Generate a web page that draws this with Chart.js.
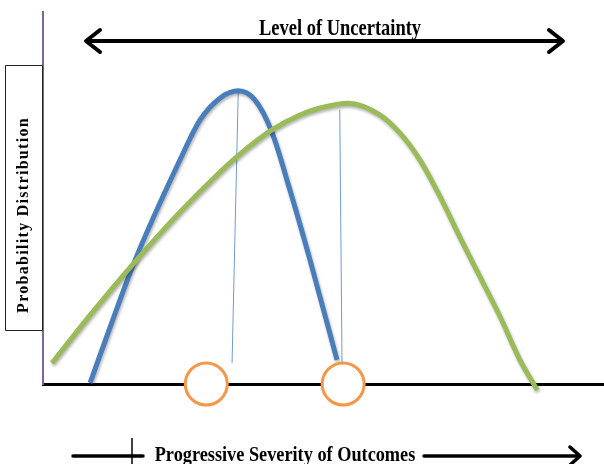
<!DOCTYPE html>
<html>
<head>
<meta charset="utf-8">
<script src="https://cdn.jsdelivr.net/npm/chart.js@4.4.1/dist/chart.umd.min.js"></script>
<style>
  html, body { margin: 0; padding: 0; background: #fff; }
</style>
</head>
<body>
<canvas id="chart" width="604" height="464"></canvas>
<script>
// Severity runs 0..100 left to right, probability 0..100 bottom to top
const narrowX = [8.4, 12.3, 16.2, 24.4, 28.0, 31.6, 34.8, 37.8, 40.8, 44.0, 47.6, 52.4];
const narrowY = [0.3, 16.7, 32.5, 60.2, 71.0, 76.9, 78.8, 76.3, 67.7, 52.2, 33.3, 6.5];

const wideX = [1.6, 8.4, 16.2, 24.4, 31.0, 35.1, 40.8, 45.8, 49.4, 54.4, 60.1, 63.6, 67.2, 70.8, 74.3, 77.9, 81.5, 85.0, 88.1];
const wideY = [5.6, 18.5, 32.5, 46.2, 56.2, 61.8, 68.3, 72.3, 74.2, 75.5, 72.3, 67.5, 60.2, 50.3, 39.5, 28.8, 18.0, 6.5, -1.6];

// thin lines from each peak down to its marker
const peakLineX = [[34.8, 33.7], [52.9, 53.3]];
const peakLineY = [[78.5, 5.6], [73.7, 5.9]];

// orange markers sitting on the severity axis
const markerX = [29.1, 53.5];
const markerY = [0, 0];

const topTitle = 'Level of Uncertainty';
const yTitle = 'Probability Distribution';
const xTitle = 'Progressive Severity of Outcomes';

const toPoints = (xs, ys) => xs.map((x, i) => ({ x: x, y: ys[i] }));

const datasets = [
  {
    data: toPoints(markerX, markerY),
    showLine: false,
    pointRadius: 21,
    pointBorderWidth: 3,
    pointBorderColor: '#f79646',
    pointBackgroundColor: '#ffffff',
    clip: false,
    order: 1
  },
  {
    data: toPoints(wideX, wideY),
    showLine: true,
    borderColor: '#9bbb59',
    borderWidth: 5,
    pointRadius: 0,
    cubicInterpolationMode: 'monotone',
    shadow: true,
    clip: false,
    order: 2
  },
  {
    data: toPoints(narrowX, narrowY),
    showLine: true,
    borderColor: '#4a7ebb',
    borderWidth: 5,
    pointRadius: 0,
    cubicInterpolationMode: 'monotone',
    shadow: true,
    clip: false,
    order: 3
  }
];

peakLineX.forEach((xs, i) => {
  datasets.push({
    data: toPoints(xs, peakLineY[i]),
    showLine: true,
    borderColor: '#6f9bd3',
    borderWidth: 1,
    pointRadius: 0,
    clip: false,
    order: 4
  });
});

// soft drop shadow under the two curves
const shadowPlugin = {
  id: 'shadow',
  beforeDatasetDraw(chart, args) {
    if (!chart.data.datasets[args.index].shadow) return;
    const ctx = chart.ctx;
    ctx.save();
    ctx.shadowColor = 'rgba(0, 0, 0, 0.3)';
    ctx.shadowBlur = 3;
    ctx.shadowOffsetX = 1;
    ctx.shadowOffsetY = 2;
  },
  afterDatasetDraw(chart, args) {
    if (chart.data.datasets[args.index].shadow) chart.ctx.restore();
  }
};

function squeezedText(ctx, text, cx, baseline, font, sx) {
  ctx.save();
  ctx.font = font;
  ctx.textAlign = 'center';
  ctx.textBaseline = 'alphabetic';
  ctx.translate(cx, baseline);
  ctx.scale(sx, 1);
  ctx.fillText(text, 0, 0);
  ctx.restore();
}

function segment(ctx, x1, y1, x2, y2) {
  ctx.beginPath();
  ctx.moveTo(x1, y1);
  ctx.lineTo(x2, y2);
  ctx.stroke();
}

function chevron(ctx, tipX, y, dir, dx, dy) {
  ctx.beginPath();
  ctx.moveTo(tipX - dir * dx, y - dy);
  ctx.lineTo(tipX, y);
  ctx.lineTo(tipX - dir * dx, y + dy);
  ctx.stroke();
}

// arrows, titles and the boxed y label
const decorPlugin = {
  id: 'decor',
  afterDraw(chart) {
    const ctx = chart.ctx;
    ctx.save();
    ctx.fillStyle = '#000';
    ctx.strokeStyle = '#000';
    ctx.lineCap = 'round';
    ctx.lineJoin = 'round';

    // Level of Uncertainty double arrow
    ctx.lineWidth = 4;
    segment(ctx, 87, 41, 562, 41);
    chevron(ctx, 86, 41, -1, 14, 11);
    chevron(ctx, 563, 41, 1, 14, 11);
    squeezedText(ctx, topTitle, 340, 35, 'bold 24px "Liberation Serif", serif', 0.77);

    // severity arrow along the bottom
    ctx.lineWidth = 3.5;
    segment(ctx, 73, 456, 143, 456);
    segment(ctx, 424, 456, 579, 456);
    chevron(ctx, 580, 456, 1, 10, 9);
    ctx.lineWidth = 1.5;
    ctx.lineCap = 'butt';
    segment(ctx, 132, 438, 132, 464);
    squeezedText(ctx, xTitle, 285, 461, 'bold 21px "Liberation Serif", serif', 0.87);

    // boxed probability label
    ctx.fillStyle = '#fff';
    ctx.fillRect(5.5, 65.5, 37, 265);
    ctx.lineWidth = 1;
    ctx.strokeStyle = '#222';
    ctx.strokeRect(5.5, 65.5, 37, 265);
    ctx.fillStyle = '#000';
    ctx.translate(23.5, 215);
    ctx.rotate(-Math.PI / 2);
    ctx.font = 'bold 16px "Liberation Serif", serif';
    ctx.letterSpacing = '1.3px';
    ctx.textAlign = 'center';
    ctx.textBaseline = 'middle';
    ctx.fillText(yTitle, 0, 0);
    ctx.restore();
  }
};

new Chart(document.getElementById('chart'), {
  type: 'scatter',
  data: { datasets: datasets },
  options: {
    responsive: false,
    animation: false,
    layout: {
      autoPadding: false,
      padding: { left: 43, top: 12, right: 0, bottom: 80 }
    },
    plugins: {
      legend: { display: false },
      tooltip: { enabled: false }
    },
    scales: {
      x: {
        min: 0,
        max: 100,
        ticks: { display: false },
        grid: { drawOnChartArea: false, drawTicks: false },
        border: { display: true, color: '#000', width: 3 }
      },
      y: {
        min: 0,
        max: 100,
        ticks: { display: false },
        grid: { drawOnChartArea: false, drawTicks: false },
        border: { display: true, color: '#8064a2', width: 2 }
      }
    }
  },
  plugins: [shadowPlugin, decorPlugin]
});
</script>
</body>
</html>
